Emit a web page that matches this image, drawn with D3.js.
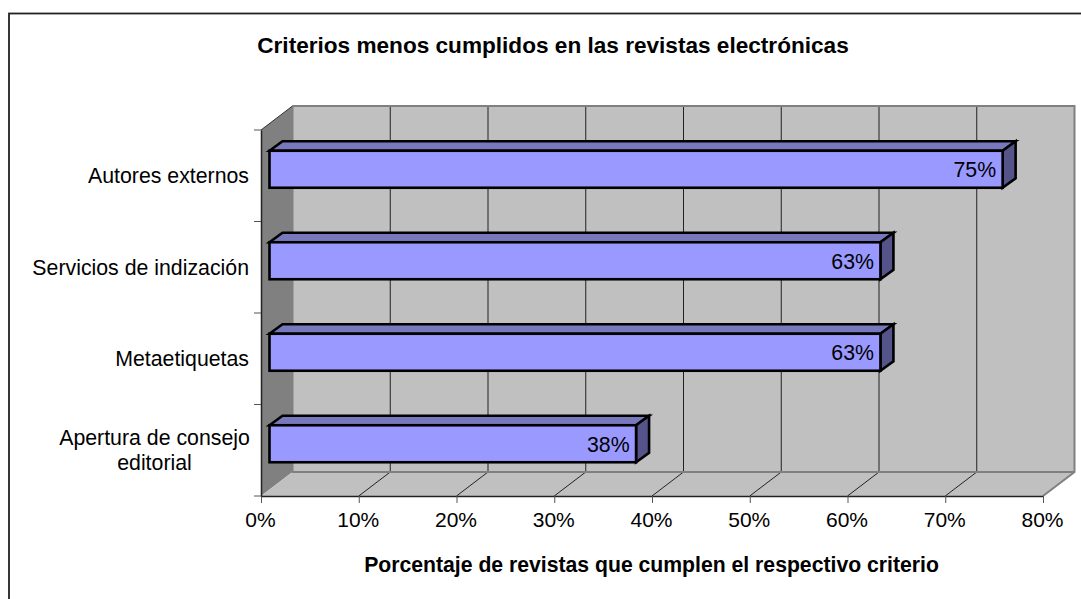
<!DOCTYPE html>
<html>
<head>
<meta charset="utf-8">
<script src="https://cdn.jsdelivr.net/npm/d3@7"></script>
<style>
html, body { margin: 0; background: #fff; }
svg { display: block; font-family: "Liberation Sans", Arial, sans-serif; }
.tick text { font-size: 21px; fill: #000; }
.title { font-size: 22.6px; font-weight: bold; }
.xTitle { font-size: 21.2px; font-weight: bold; }
.label { font-size: 21.3px; }
</style>
</head>
<body>
<div class="container"></div>
<script>
var categories = ['Autores externos', 'Servicios de indización', 'Metaetiquetas', 'Apertura de consejo|editorial'];
var values = [75, 62.5, 62.5, 37.5];
var valueLabels = ['75%', '63%', '63%', '38%'];
var xTicks = [0, 10, 20, 30, 40, 50, 60, 70, 80];

var WIDTH = 1081, HEIGHT = 599;
var translate = (x, y) => `translate(${ x },${ y })`;
var poly = pts => 'M' + pts.map(p => p.join(',')).join('L') + 'Z';

var svg = d3.select('.container').append('svg')
    .attr('width', WIDTH)
    .attr('height', HEIGHT);

svg.append('rect')
    .attr('x', 9).attr('y', 13.5)
    .attr('width', 1200).attr('height', 800)
    .attr('fill', '#fff')
    .attr('stroke', '#222')
    .attr('stroke-width', 1.8);

var x = d3.scaleLinear().domain([0, 80]).range([261, 1043]);
var y = d3.scaleBand().domain(categories).range([130, 496]);
var depthX = 31.5, depthY = -24;

var left = x(0), right = x(80), top_ = y.range()[0], bottom = y.range()[1];

// walls and floor of the 3d box
svg.append('path')
    .attr('d', poly([[left + depthX, top_ + depthY], [right + depthX, top_ + depthY], [right + depthX, bottom + depthY], [left + depthX, bottom + depthY]]))
    .attr('fill', '#c0c0c0');
svg.append('path')
    .attr('d', poly([[left, top_], [left + depthX, top_ + depthY], [left + depthX, bottom + depthY], [left, bottom]]))
    .attr('fill', '#808080');
svg.append('path')
    .attr('d', poly([[left, bottom], [left + depthX, bottom + depthY], [right + depthX, bottom + depthY], [right, bottom]]))
    .attr('fill', '#c0c0c0');

// gridlines, back wall then floor
svg.selectAll('.grid').data(xTicks.slice(1, -1)).enter().append('line')
    .attr('x1', d => x(d) + depthX).attr('x2', d => x(d) + depthX)
    .attr('y1', top_ + depthY).attr('y2', bottom + depthY)
    .attr('stroke', '#222').attr('stroke-width', 1);
svg.selectAll('.gridFloor').data(xTicks.slice(1, -1)).enter().append('line')
    .attr('x1', d => x(d)).attr('x2', d => x(d) + depthX)
    .attr('y1', bottom).attr('y2', bottom + depthY)
    .attr('stroke', '#222').attr('stroke-width', 1);

// gray edges of the box
svg.append('path')
    .attr('d', `M${ left + depthX },${ top_ + depthY }H${ right + depthX }V${ bottom + depthY }L${ right },${ bottom }`)
    .attr('fill', 'none').attr('stroke', '#808080').attr('stroke-width', 2);
svg.append('path')
    .attr('d', `M${ left + depthX },${ top_ + depthY }V${ bottom + depthY }H${ right + depthX }`)
    .attr('fill', 'none').attr('stroke', '#808080').attr('stroke-width', 2);
svg.append('line')
    .attr('x1', left).attr('y1', top_).attr('x2', left + depthX).attr('y2', top_ + depthY)
    .attr('stroke', '#333').attr('stroke-width', 1);

// axes
var xAxis = d3.axisBottom(x).tickValues(xTicks).tickFormat(d => d + '%').tickSize(7).tickSizeOuter(0).tickPadding(9);
var gx = svg.append('g').attr('transform', translate(0, bottom)).call(xAxis);
var yAxis = d3.axisLeft(y.copy()).tickValues([]).tickSizeOuter(0);
var gy = svg.append('g').attr('transform', translate(left, 0)).call(yAxis);
svg.selectAll('.domain').attr('stroke', '#222').attr('stroke-width', 1.5);
gx.selectAll('.tick line').attr('stroke', '#555');
gx.selectAll('.tick text').attr('dx', -1);

// category ticks sit on band edges
var yEdges = categories.map(c => y(c)).concat([bottom]);
svg.selectAll('.yTick').data(yEdges).enter().append('line')
    .attr('x1', left - 7).attr('x2', left)
    .attr('y1', d => d).attr('y2', d => d)
    .attr('stroke', '#555');

// bars
var barOffX = 8.5, barOffY = -6.5, barH = 37, barDX = 13, barDY = -9.5;
var bars = svg.selectAll('.bar').data(values).enter().append('g')
    .attr('transform', (d, i) => translate(barOffX, y(categories[i]) + y.bandwidth() / 2 + barOffY - barH / 2));
var barStroke = g => g.attr('stroke', '#000').attr('stroke-width', 2.6).attr('stroke-linejoin', 'miter');

bars.append('path')
    .attr('d', d => poly([[left, 0], [left + barDX, barDY], [x(d) + barDX, barDY], [x(d), 0]]))
    .attr('fill', '#7878bd').call(barStroke);
bars.append('path')
    .attr('d', d => poly([[x(d), 0], [x(d) + barDX, barDY], [x(d) + barDX, barH + barDY], [x(d), barH]]))
    .attr('fill', '#54548a').call(barStroke);
bars.append('rect')
    .attr('x', left).attr('y', 0)
    .attr('width', d => x(d) - left).attr('height', barH)
    .attr('fill', '#9999ff').call(barStroke);
bars.append('text')
    .attr('class', 'label')
    .attr('x', d => x(d) - 6.5).attr('y', barH / 2 + 8)
    .attr('text-anchor', 'end')
    .text((d, i) => valueLabels[i]);

// category labels
var catLabels = svg.selectAll('.cat').data(categories).enter().append('text')
    .attr('class', 'label');
catLabels.each(function(d) {
    var parts = d.split('|');
    var cy = y(d) + y.bandwidth() / 2;
    var t = d3.select(this);
    parts.forEach((p, i) => {
        t.append('tspan')
            .attr('x', parts.length > 1 ? 154.5 : 249)
            .attr('y', cy + 7.5 + (i - (parts.length - 1) / 2) * 25)
            .attr('text-anchor', parts.length > 1 ? 'middle' : 'end')
            .text(p);
    });
});

svg.append('text').attr('class', 'title')
    .attr('x', 553).attr('y', 53)
    .attr('text-anchor', 'middle')
    .text('Criterios menos cumplidos en las revistas electrónicas');

svg.append('text').attr('class', 'xTitle')
    .attr('x', 651.5).attr('y', 572)
    .attr('text-anchor', 'middle')
    .text('Porcentaje de revistas que cumplen el respectivo criterio');
</script>
</body>
</html>
